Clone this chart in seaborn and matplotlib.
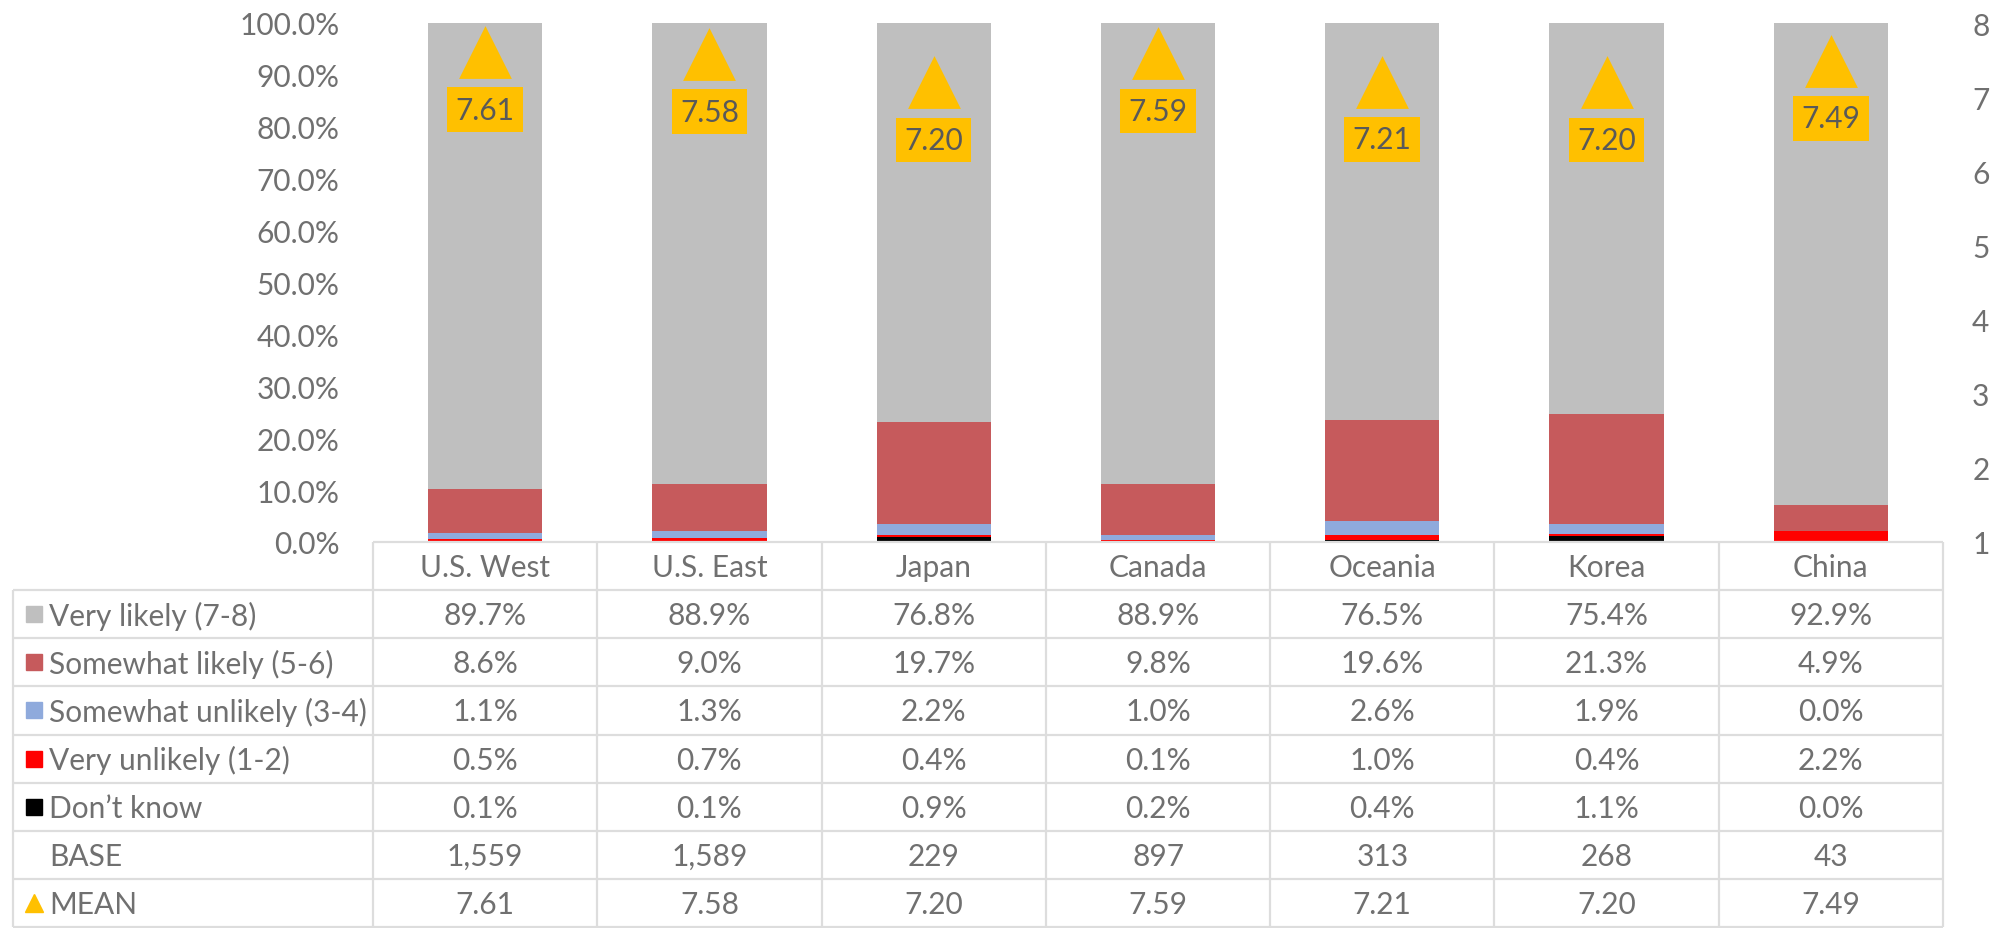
import numpy as np
import pandas as pd
import matplotlib
matplotlib.use("Agg")
import matplotlib.pyplot as plt
import seaborn as sns

# ---------------- data ----------------
regions = ["U.S. West", "U.S. East", "Japan", "Canada", "Oceania", "Korea", "China"]
very_likely = [89.7, 88.9, 76.8, 88.9, 76.5, 75.4, 92.9]
somewhat_likely = [8.6, 9.0, 19.7, 9.8, 19.6, 21.3, 4.9]
somewhat_unlikely = [1.1, 1.3, 2.2, 1.0, 2.6, 1.9, 0.0]
very_unlikely = [0.5, 0.7, 0.4, 0.1, 1.0, 0.4, 2.2]
dont_know = [0.1, 0.1, 0.9, 0.2, 0.4, 1.1, 0.0]
base = [1559, 1589, 229, 897, 313, 268, 43]
mean = [7.61, 7.58, 7.20, 7.59, 7.21, 7.20, 7.49]

series_names = ["Very likely (7-8)", "Somewhat likely (5-6)", "Somewhat unlikely (3-4)",
                "Very unlikely (1-2)", "Don\u2019t know"]
series_values = [very_likely, somewhat_likely, somewhat_unlikely, very_unlikely, dont_know]
series_colors = ["#BFBFBF", "#C65A5C", "#8FAADC", "#FF0000", "#000000"]
mean_color = "#FFC000"

# ---------------- style ----------------
sns.set_theme(style="white")
plt.rcParams["font.family"] = ["Lato", "DejaVu Sans"]
TXT = "#707070"
LBL = "#595959"
GRID = "#DDDDDD"
FS = 21.5

W, H = 1992, 929
fig = plt.figure(figsize=(W / 100, H / 100), dpi=100)

L, R, T, B = 373, 1943, 24, 543
ax = fig.add_axes([L / W, 1 - B / H, (R - L) / W, (B - T) / H])

# stacked bars: draw cumulative totals from the top segment down
n = len(regions)
stack_order = list(range(len(series_names)))[::-1]  # bottom: Don't know ... top: Very likely
cum = np.zeros(n)
cums = {}
for k in stack_order:
    cum = cum + np.array(series_values[k]) / 100.0
    cums[k] = cum.copy()
for k in range(len(series_names)):  # Very likely (total) first, then smaller ones on top
    df = pd.DataFrame({"region": regions, "value": cums[k]})
    sns.barplot(data=df, x="region", y="value", color=series_colors[k], saturation=1,
                width=0.51, ax=ax, linewidth=0, order=regions)

ax.set_xlim(-0.5, n - 0.5)
ax.set_ylim(0, 1.0)
ax.set_yticks(np.arange(0, 1.01, 0.1))
ax.set_yticklabels([f"{v*100:.1f}%" for v in np.arange(0, 1.01, 0.1)])
ax.set_xticks([])
ax.set_xlabel("")
ax.set_ylabel("")
ax.tick_params(axis="y", length=0, pad=24, labelsize=FS, labelcolor=TXT)
for s in ax.spines.values():
    s.set_visible(False)
ax.patch.set_alpha(0)

# secondary axis for the mean markers
ax2 = ax.twinx()
ax2.set_ylim(1, 8)
ax2.set_yticks(range(1, 9))
ax2.tick_params(axis="y", length=0, pad=21, labelsize=FS, labelcolor=TXT)
for s in ax2.spines.values():
    s.set_visible(False)
xs = np.arange(n)
sns.scatterplot(x=xs, y=mean, marker="^", s=38 ** 2, color=mean_color, linewidth=0,
                ax=ax2, legend=False, zorder=5)
for i, m in enumerate(mean):
    ax2.annotate(f"{m:.2f}", (i, m), xytext=(0, -41.5), textcoords="offset points",
                 ha="center", va="center", fontsize=FS, color=LBL, zorder=6,
                 bbox=dict(boxstyle="square,pad=0.28", fc=mean_color, ec="none"))
ax2.set_xlim(-0.5, n - 0.5)
ax2.set_ylabel("")

# ---------------- data table ----------------
TL = 13
tax = fig.add_axes([TL / W, 1 - 928 / H, (R - TL) / W, (928 - B) / H])
colw = (R - L) / n
lw_units = (L - TL) / colw
x0 = -0.5 - lw_units
tax.set_xlim(x0, n - 0.5)
tax.set_ylim(8, 0)
tax.axis("off")

glw = 1.6
# horizontal lines
tax.hlines(0, -0.5, n - 0.5, color=GRID, lw=glw, clip_on=False)
tax.hlines(np.arange(1, 9), x0, n - 0.5, color=GRID, lw=glw, clip_on=False)
# vertical lines
tax.vlines(np.arange(n + 1) - 0.5, 0, 8, color=GRID, lw=glw, clip_on=False)
tax.vlines(x0, 1, 8, color=GRID, lw=glw, clip_on=False)

# header
for i, r in enumerate(regions):
    tax.text(i, 0.52, r, ha="center", va="center", fontsize=FS, color=TXT)

rows = [(name, [f"{v:.1f}%" for v in vals]) for name, vals in zip(series_names, series_values)]
rows.append(("BASE", [f"{b:,}" for b in base]))
rows.append(("MEAN", [f"{m:.2f}" for m in mean]))

text_x = x0 + (49 - TL) / colw
key_x = x0 + (33.5 - TL) / colw
for r, (name, cells) in enumerate(rows):
    y = r + 1.52
    tax.text(text_x, y, name, ha="left", va="center", fontsize=FS, color=TXT)
    for i, c in enumerate(cells):
        tax.text(i, y, c, ha="center", va="center", fontsize=FS, color=TXT)
    if r < len(series_names):
        tax.plot([key_x], [r + 1.5], marker="s", markersize=12, color=series_colors[r],
                 linestyle="none", clip_on=False)
    elif name == "MEAN":
        tax.plot([key_x], [r + 1.5], marker="^", markersize=13, color=mean_color,
                 linestyle="none", clip_on=False)

fig.savefig("out.png", dpi=100)
